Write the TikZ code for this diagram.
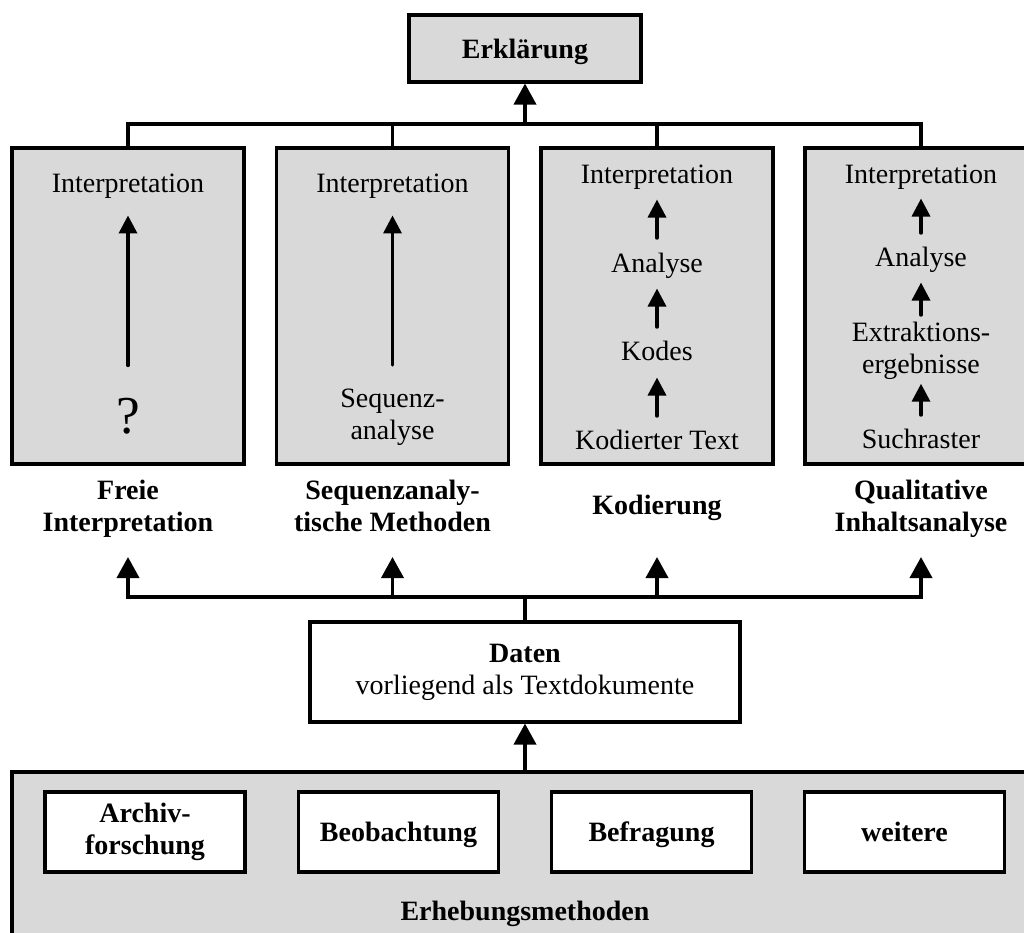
\documentclass[tikz,border=0pt]{standalone}
\usepackage{fontspec}
\setmainfont{Liberation Serif}
\usetikzlibrary{arrows.meta}
\definecolor{panelgray}{RGB}{217,217,217}
\begin{document}
\begin{tikzpicture}[x=0.75pt,y=-0.75pt,
  txt/.style={font=\fontsize{21}{24}\selectfont, inner sep=0pt, align=center, anchor=north},
  btxt/.style={txt, font=\fontsize{21}{24}\selectfont\bfseries},
  panel/.style={draw, line width=2.3pt, fill=panelgray},
  whitebox/.style={draw, line width=2.3pt, fill=white, font=\fontsize{21}{24}\selectfont, align=center, inner sep=0pt},
  methbox/.style={whitebox, font=\fontsize{21}{24}\selectfont\bfseries, minimum width=150pt, minimum height=60pt},
  oneline/.style={text depth=0pt},
  methpanel/.style={panel, minimum width=174pt, minimum height=237pt},
  link/.style={line width=2.8pt},
  arr/.style={link, -{Triangle[width=16.5pt,length=15.75pt]}},
  stepup/.style={line width=2.6pt, line cap=round, -{Triangle[width=13.5pt,length=13.5pt]}},
]
\useasboundingbox (0,0) rectangle (1024,932);
\clip (0,0) rectangle (1024,932);

% top: explanation
\node[panel, oneline, minimum width=174pt, minimum height=50.25pt, font=\fontsize{21}{24}\selectfont\bfseries] (erk) at (525,48.5) {Erklärung};

% the four analysis methods
\node[methpanel] (p1) at (128,306) {};
\node[methpanel] (p2) at (392.5,306) {};
\node[methpanel] (p3) at (657,306) {};
\node[methpanel] (p4) at (921,306) {};

% panel 1
\node[txt] (i1) at (128,169.6) {\strut Interpretation};
\node[txt, anchor=base, font=\fontsize{40}{44}\selectfont] (q1) at (128,433) {?};
\draw[stepup, shorten <=24pt, shorten >=10pt] (q1.north) -- (i1.south);

% panel 2
\node[txt] (i2) at (392.5,169.6) {\strut Interpretation};
\node[txt] (s2) at (392.5,384.6) {\strut Sequenz-\\analyse\strut};
\draw[stepup, shorten <=14.7pt, shorten >=10pt] (s2.north) -- (i2.south);

% panel 3
\node[txt] (i3) at (657,160.6) {\strut Interpretation};
\node[txt] (an3) at (657,249.6) {\strut Analyse};
\node[txt] (ko3) at (657,337.6) {\strut Kodes};
\node[txt] (kt3) at (657,426.6) {\strut Kodierter Text};
\draw[stepup, shorten <=8.7pt, shorten >=4.8pt] (an3.north) -- (i3.south);
\draw[stepup, shorten <=7.95pt, shorten >=4.8pt] (ko3.north) -- (an3.south);
\draw[stepup, shorten <=7.95pt, shorten >=5.55pt] (kt3.north) -- (ko3.south);

% panel 4
\node[txt] (i4) at (921,160.6) {\strut Interpretation};
\node[txt] (an4) at (921,243.6) {\strut Analyse};
\node[txt] (ex4) at (921,318.6) {\strut Extraktions-\\ergebnisse\strut};
\node[txt] (su4) at (921,425.6) {\strut Suchraster};
\draw[stepup, shorten <=7.95pt, shorten >=4.05pt] (an4.north) -- (i4.south);
\draw[stepup, shorten <=2.7pt, shorten >=4.8pt] (ex4.north) -- (an4.south);
\draw[stepup, shorten <=7.95pt, shorten >=0.45pt] (su4.north) -- (ex4.south);

% method names
\node[btxt] (l1) at (128,476.6) {\strut Freie\\Interpretation};
\node[btxt] (l2) at (392.5,476.6) {\strut Sequenzanaly-\\tische Methoden};
\node[btxt] (l3) at (657,491.6) {\strut Kodierung};
\node[btxt] (l4) at (921,476.6) {\strut Qualitative\\Inhaltsanalyse};

% data
\node[whitebox, minimum width=322.5pt, minimum height=75pt] (daten) at (525,672) {\textbf{Daten}\\vorliegend als Textdokumente};

% data collection methods
\node[panel, minimum width=769.5pt, minimum height=141pt] (erh) at (525,866) {};
\node[methbox] (m1) at (145,832) {Archiv-\\forschung};
\node[methbox, oneline] (m2) at (398.5,832) {Beobachtung};
\node[methbox, oneline] (m3) at (651.5,832) {Befragung};
\node[methbox, oneline] (m4) at (904.5,832) {weitere};
\node[btxt, anchor=base] (erhl) at (525,920) {Erhebungsmethoden};

% upper bus to the explanation
\coordinate (bt) at (525,124);
\draw[link] (p1.north) |- (bt) -| (p4.north);
\draw[link] (p2.north) -- (p2.north |- bt);
\draw[link] (p3.north) -- (p3.north |- bt);
\draw[arr] (bt) -- (erk.south);

% lower bus from the data
\coordinate (bb) at (525,597);
\coordinate (t1) at (128,557);
\coordinate (t2) at (392.5,557);
\coordinate (t3) at (657,557);
\coordinate (t4) at (921,557);
\draw[link] (daten.north) -- (bb);
\draw[arr] (bb) -| (t1);
\draw[arr] (bb) -| (t4);
\draw[arr] (t2 |- bb) -- (t2);
\draw[arr] (t3 |- bb) -- (t3);
\draw[arr] (erh.north) -- (daten.south);
\end{tikzpicture}
\end{document}
